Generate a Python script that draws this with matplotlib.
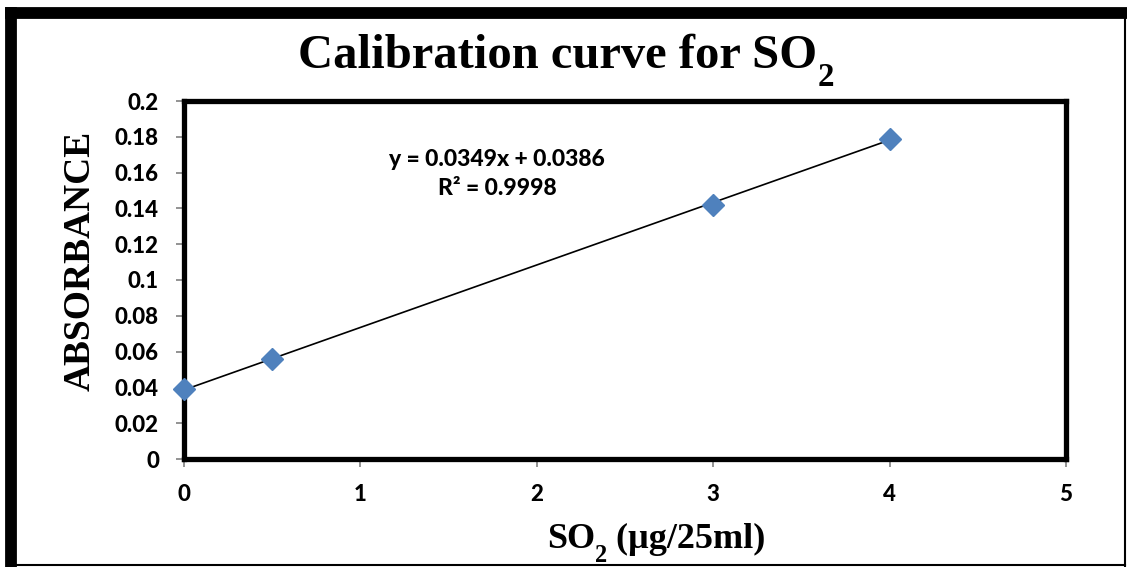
import numpy as np
import matplotlib.pyplot as plt
from matplotlib.lines import Line2D

# datos de la curva de calibración
so2 = [0, 0.5, 3, 4]
absorbancia = [0.039, 0.056, 0.142, 0.179]
pendiente = 0.0349
ordenada = 0.0386
xticks = [0, 1, 2, 3, 4, 5]
xticklabels = ['0', '1', '2', '3', '4', '5']
yticks = [0, 0.02, 0.04, 0.06, 0.08, 0.1, 0.12, 0.14, 0.16, 0.18, 0.2]
yticklabels = ['0', '0.02', '0.04', '0.06', '0.08', '0.1', '0.12', '0.14', '0.16', '0.18', '0.2']

W, H = 1127, 567
fig = plt.figure(figsize=(W/100, H/100), dpi=100)
rend = fig.canvas.get_renderer()

# marco exterior
def linea(x0, y0, x1, y1, lw):
    fig.add_artist(Line2D([x0/W, x1/W], [1-y0/H, 1-y1/H], color='black', lw=lw,
                          solid_capstyle='projecting'))
linea(11, 12.5, 1125, 12.5, 8.5)
linea(11, 12.5, 11, 566, 8.5)
linea(1125, 12, 1125, 566, 1.5)
linea(10, 565, 1125, 565, 1.5)

x0, x1, y0, y1 = 184, 1066, 101, 459
ax = fig.add_axes([x0/W, 1-y1/H, (x1-x0)/W, (y1-y0)/H])

xs = np.array([so2[0], so2[-1]])
ax.plot(xs, pendiente*xs + ordenada, color='black', lw=1.2, zorder=2)
ax.plot(so2, absorbancia, 'D', color='#4F81BD', markersize=11, zorder=3, clip_on=False)

ax.set_xlim(0, 5)
ax.set_ylim(0, 0.2)
fuente_ticks = dict(fontsize=16, fontfamily='Lato', fontweight='black')
ax.set_xticks(xticks, labels=xticklabels, **fuente_ticks)
ax.set_yticks(yticks, labels=yticklabels, **fuente_ticks)
for s in ax.spines.values():
    s.set_linewidth(3.8)
    s.set_color('black')
ax.tick_params(direction='out', length=6, width=1.2, color='#808080')
ax.tick_params(axis='y', pad=12)
ax.tick_params(axis='x', pad=12)

ax.text(0.355, 0.796, 'y = 0.0349x + 0.0386\nR² = 0.9998', transform=ax.transAxes,
        ha='center', va='center', fontsize=16.5, fontweight='black', family='Lato',
        linespacing=1.5)

# texto con subíndice "2"
def con_sub(xc, yb, antes, despues, size):
    fuente = dict(fontweight='bold', family='Liberation Serif')
    partes = [(antes, size, 0), ('2', size*0.68, -size*0.38), (despues, size, 0)]
    anchos = []
    for t, sz, _ in partes:
        tt = fig.text(0, 0, t, fontsize=sz, **fuente)
        anchos.append(tt.get_window_extent(rend).width if t else 0)
        tt.remove()
    pos = xc - sum(anchos)/2
    for (t, sz, dy), w in zip(partes, anchos):
        if t:
            fig.text(pos/W, (H-yb + dy*100/72)/H, t, fontsize=sz, ha='left',
                     va='baseline', **fuente)
        pos += w

con_sub(566, 68, 'Calibration curve for SO', '', 35)
con_sub(656, 548, 'SO', ' (µg/25ml)', 26)

fig.text(80/W, 1-261/H, 'ABSORBANCE', rotation=90, ha='center', va='center',
         fontsize=27, fontweight='bold', family='Liberation Serif')

fig.savefig('out.png', dpi=100)
